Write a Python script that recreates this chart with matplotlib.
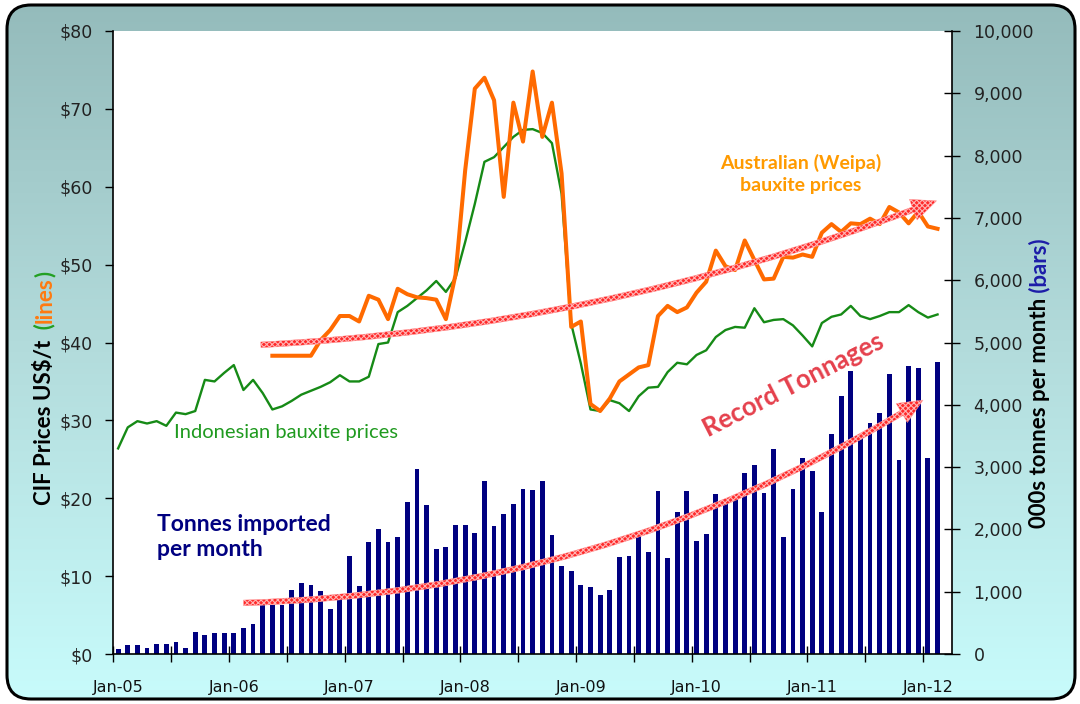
import matplotlib
matplotlib.use("Agg")
import matplotlib.pyplot as plt
import numpy as np
from matplotlib.patches import FancyBboxPatch
from matplotlib.colors import LinearSegmentedColormap

# monthly data, Jan-05 .. Feb-12
tonnes = [80, 145, 145, 100, 160, 160, 190, 100, 360, 300, 345, 345, 345,
          420, 480, 785, 785, 785, 1035, 1145, 1100, 1005, 715, 970, 1575,
          1095, 1795, 2000, 1795, 1880, 2435, 2970, 2395, 1680, 1720, 2070, 2070,
          1935, 2780, 2055, 2240, 2400, 2655, 2635, 2780, 1915, 1415, 1335, 1110,
          1080, 955, 1030, 1555, 1575, 1930, 1630, 2620, 1540, 2275, 2620, 1820,
          1930, 2575, 2490, 2490, 2910, 3040, 2580, 3295, 1880, 2655, 3140,
          2940, 2280, 3530, 4135, 4535, 3515, 3715, 3875, 4490, 3115, 4615, 4590,
          3140, 4690]

indonesian = [26.4, 29.1, 29.9, 29.6, 29.9, 29.3, 31.0, 30.8, 31.2, 35.2, 35.0, 36.1,
              37.1, 33.9, 35.2, 33.5, 31.4, 31.8, 32.5, 33.3, 33.8, 34.3, 34.9, 35.8,
              35.0, 35.0, 35.6, 39.8, 40.0, 43.9, 44.7, 45.7, 46.7, 47.9, 46.5, 48.3,
              52.9, 57.8, 63.2, 63.8, 65.1, 66.4, 67.3, 67.4, 66.9, 65.6, 59.1, 42.4,
              37.3, 31.4, 31.2, 32.6, 32.2, 31.2, 33.1, 34.2, 34.3, 36.2, 37.4, 37.2,
              38.4, 39.0, 40.7, 41.6, 42.0, 41.9, 44.4, 42.6, 42.9, 43.0, 42.2, 40.9,
              39.5, 42.5, 43.3, 43.6, 44.7, 43.4, 43.0, 43.4, 43.9, 43.9, 44.8, 43.9,
              43.2, 43.6]

weipa = [np.nan] * 16 + [
    38.3, 38.3, 38.3, 38.3, 38.3, 40.3, 41.6, 43.4, 43.4, 42.7, 46.0, 45.5,
    43.0, 46.9, 46.2, 45.8, 45.7, 45.5, 43.0, 48.7,
    62.1, 72.6, 74.0, 71.1, 58.7, 70.8, 65.8, 74.8, 66.4, 70.8, 61.7, 42.0,
    42.7, 32.1, 31.2,
    32.8, 35.0, 35.9, 36.8, 37.1, 43.4, 44.7, 43.9, 44.5, 46.4, 47.8, 51.8,
    49.8, 49.3, 53.1, 50.6, 48.1, 48.2, 51.0, 50.9, 51.3, 51.0, 54.1, 55.2,
    54.2, 55.3, 55.2, 55.9, 55.2, 57.4, 56.7, 55.3, 56.8, 54.9, 54.6]

year_labels = ['Jan-05', 'Jan-06', 'Jan-07', 'Jan-08', 'Jan-09', 'Jan-10', 'Jan-11', 'Jan-12']

W, H = 1080, 704
fig = plt.figure(figsize=(W / 100, H / 100), dpi=100)

# ---- background: rounded box with vertical gradient
bg = fig.add_axes([0, 0, 1, 1], zorder=-10)
bg.set_xlim(0, W)
bg.set_ylim(0, H)
bg.axis('off')
cmap = LinearSegmentedColormap.from_list('bg', ['#94bbbb', '#b3dcdc', '#c8fcfc'])
grad = np.linspace(0, 1, 256).reshape(-1, 1)
im = bg.imshow(grad, cmap=cmap, aspect='auto', extent=[0, W, 0, H], origin='upper')
box = FancyBboxPatch((7, 5), 1068, 694, boxstyle='round,pad=0,rounding_size=24',
                     fc='none', ec='black', lw=2.2)
bg.add_patch(box)
im.set_clip_path(box)

# ---- main axes
ax = fig.add_axes([113.3 / W, 50 / H, (952 - 113.3) / W, (654 - 31) / H])
ax2 = ax.twinx()
ax.set_zorder(ax2.get_zorder() + 1)
ax.patch.set_visible(False)
ax2.patch.set_visible(True)
ax2.patch.set_facecolor('white')

x = np.arange(len(tonnes))
ax2.bar(x, tonnes, width=0.5, color='#000080', zorder=2)
ax.plot(x, indonesian, color='#168a16', lw=1.7, zorder=3)
ax.plot(x, weipa, color='#ff6a00', lw=2.9, zorder=4)

ax.set_xlim(-0.5, 86.5)
ax.set_ylim(0, 80)
ax2.set_ylim(0, 10000)

ax.set_yticks(np.arange(0, 81, 10))
ax.set_yticklabels(['${:.0f}'.format(v) for v in np.arange(0, 81, 10)])
ax2.set_yticks(np.arange(0, 10001, 1000))
ax2.set_yticklabels(['{:,.0f}'.format(v) for v in np.arange(0, 10001, 1000)])

ax.set_xticks(np.arange(-0.5, 87, 6))
ax.set_xticklabels([])
ax.set_xticks(np.arange(0, 85, 12), minor=True)
ax.set_xticklabels(year_labels, minor=True)
ax.tick_params(axis='x', which='major', direction='inout', length=12, width=1)
ax.tick_params(axis='x', which='minor', length=0, pad=19, labelsize=11.5,
               labelcolor='#111111')
ax.tick_params(axis='y', direction='out', length=6, width=1, pad=9, labelsize=12.5,
               labelcolor='#222222')
ax2.tick_params(axis='y', direction='inout', length=11, width=1, pad=10, labelsize=12.5,
                labelcolor='#222222')

for s in ['top', 'right']:
    ax.spines[s].set_visible(False)
for s in ['top', 'left', 'bottom']:
    ax2.spines[s].set_visible(False)
for a in (ax, ax2):
    for s in a.spines.values():
        s.set_linewidth(1.2)

# ---- annotations
lab = ['Lato', 'DejaVu Sans']
ax.text(70.8, 61.6, 'Australian (Weipa)\nbauxite prices', color='#ff9a00', fontsize=14,
        fontweight='bold', family=lab, ha='center', va='center', linespacing=1.35)
ax.text(5.8, 28.5, 'Indonesian bauxite prices', color='#1f9a1f', fontsize=14.5,
        family=lab, ha='left', va='center')
ax.text(4.0, 15.0, 'Tonnes imported\nper month', color='#000080', fontsize=16.5,
        fontweight='bold', family=lab, ha='left', va='center', linespacing=1.2)
ax.text(70.0, 34.6, 'Record Tonnages', color='#e5404c', fontsize=18.5,
        fontweight='bold', family=lab, ha='center', va='center', rotation=27)

plt.rcParams['hatch.linewidth'] = 0.8
arrow = dict(arrowstyle='simple,tail_width=0.42,head_width=1.6,head_length=1.8',
             fc='#ff2a2a', ec='#ffb4b4', lw=0.3, hatch='xxxxxx', mutation_scale=10,
             shrinkA=0, shrinkB=0)
ax.annotate('', xy=(84.9, 58.2), xytext=(14.8, 39.7),
            arrowprops=dict(arrow, connectionstyle='arc3,rad=0.08'), zorder=5)
ax.annotate('', xy=(83.5, 4077), xytext=(13.0, 820), xycoords=ax2.transData,
            textcoords=ax2.transData,
            arrowprops=dict(arrow, connectionstyle='arc3,rad=0.135'), zorder=5)

# ---- rotated axis titles made of coloured pieces
renderer = fig.canvas.get_renderer()


def stack_up(xpix, ypix, pieces):
    y = ypix
    for s, c in pieces:
        t = fig.text(xpix / W, y / H, s, rotation=90, ha='center', va='bottom',
                     color=c, fontsize=16, fontweight='bold', family=lab)
        y = t.get_window_extent(renderer).y1


stack_up(45, 199, [('CIF Prices US$/t', 'black'), ('  (', '#22a022'),
                   ('lines', '#ff7a10'), (')', '#22a022')])
stack_up(1040, 176, [('000s tonnes per month', 'black'), (' (bars)', '#1c1ca8')])

fig.savefig('out.png', dpi=100)
